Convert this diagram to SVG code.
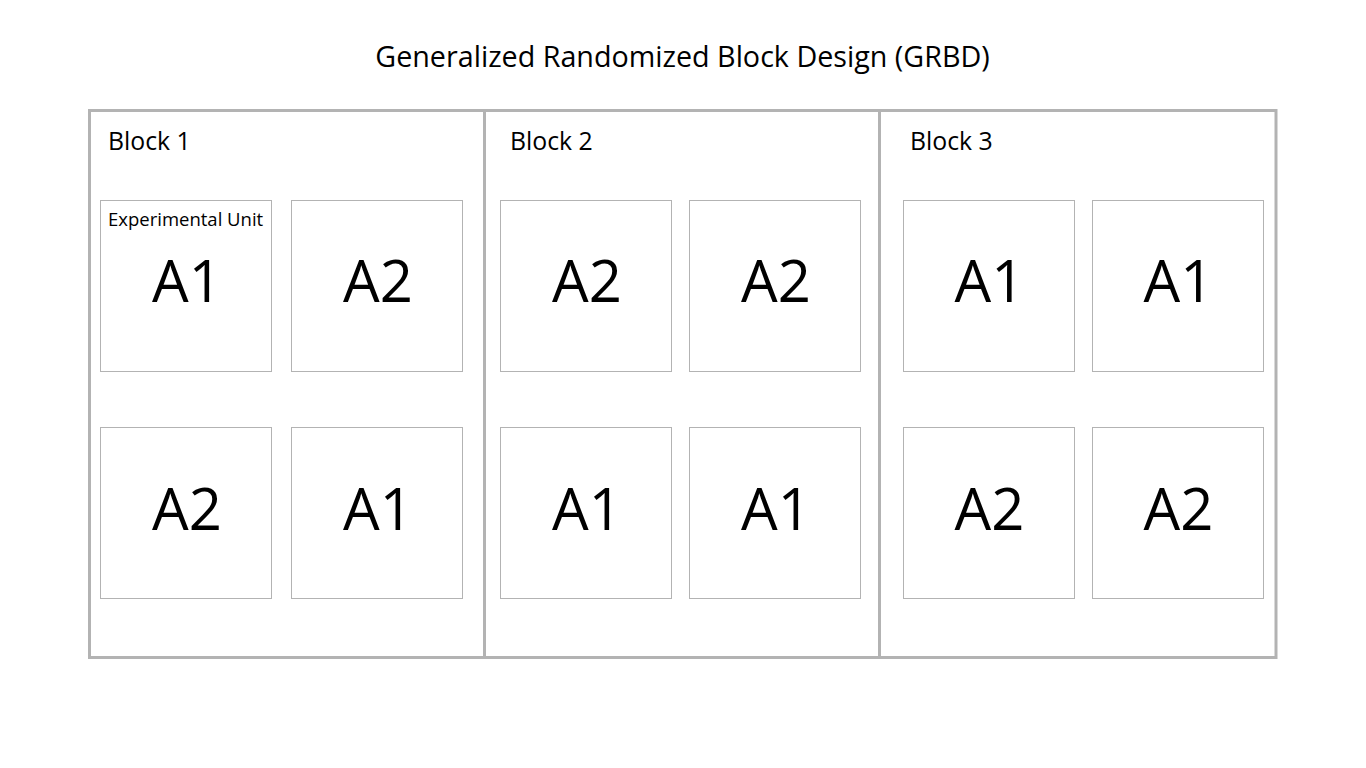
<svg xmlns="http://www.w3.org/2000/svg" width="1366" height="768" viewBox="0 0 1366 768">
  <style>
    text { font-family: "Open Sans", "Liberation Sans", sans-serif; fill: #000; }
    .title { font-size: 28.7px; text-anchor: middle; }
    .block-label { font-size: 24.8px; }
    .unit-note { font-size: 18.5px; }
    .treat { font-size: 58px; text-anchor: middle; }
    .frame { fill: none; stroke: #b3b3b3; stroke-width: 3; }
    .unit { fill: #fff; stroke: #b3b3b3; stroke-width: 1; }
  </style>
  <rect width="1366" height="768" fill="#fff"/>

  <text class="title" x="682.5" y="67">Generalized Randomized Block Design (GRBD)</text>

  <!-- outer frame and block dividers -->
  <g id="frame">
    <rect class="frame" x="89.5" y="110.5" width="1186.5" height="547"/>
    <line class="frame" x1="484.5" y1="110.5" x2="484.5" y2="657.5"/>
    <line class="frame" x1="879.5" y1="110.5" x2="879.5" y2="657.5"/>
  </g>

  <!-- Block 1 -->
  <g id="block1">
    <text class="block-label" x="108" y="150">Block 1</text>
    <g id="b1u1"><rect class="unit" x="100.5" y="200.5" width="171" height="171"/>
      <text class="unit-note" x="108" y="226">Experimental Unit</text>
      <text class="treat" x="187" y="302">A1</text></g>
    <g id="b1u2"><rect class="unit" x="291.5" y="200.5" width="171" height="171"/>
      <text class="treat" x="378" y="302">A2</text></g>
    <g id="b1u3"><rect class="unit" x="100.5" y="427.5" width="171" height="171"/>
      <text class="treat" x="187" y="530">A2</text></g>
    <g id="b1u4"><rect class="unit" x="291.5" y="427.5" width="171" height="171"/>
      <text class="treat" x="378" y="530">A1</text></g>
  </g>

  <!-- Block 2 -->
  <g id="block2">
    <text class="block-label" x="510" y="150">Block 2</text>
    <g id="b2u1"><rect class="unit" x="500.5" y="200.5" width="171" height="171"/>
      <text class="treat" x="587" y="302">A2</text></g>
    <g id="b2u2"><rect class="unit" x="689.5" y="200.5" width="171" height="171"/>
      <text class="treat" x="776" y="302">A2</text></g>
    <g id="b2u3"><rect class="unit" x="500.5" y="427.5" width="171" height="171"/>
      <text class="treat" x="587" y="530">A1</text></g>
    <g id="b2u4"><rect class="unit" x="689.5" y="427.5" width="171" height="171"/>
      <text class="treat" x="776" y="530">A1</text></g>
  </g>

  <!-- Block 3 -->
  <g id="block3">
    <text class="block-label" x="910" y="150">Block 3</text>
    <g id="b3u1"><rect class="unit" x="903.5" y="200.5" width="171" height="171"/>
      <text class="treat" x="989.5" y="302">A1</text></g>
    <g id="b3u2"><rect class="unit" x="1092.5" y="200.5" width="171" height="171"/>
      <text class="treat" x="1178.5" y="302">A1</text></g>
    <g id="b3u3"><rect class="unit" x="903.5" y="427.5" width="171" height="171"/>
      <text class="treat" x="989.5" y="530">A2</text></g>
    <g id="b3u4"><rect class="unit" x="1092.5" y="427.5" width="171" height="171"/>
      <text class="treat" x="1178.5" y="530">A2</text></g>
  </g>

  <!-- no connectors in this layout -->
  <g id="connectors"/>
</svg>
